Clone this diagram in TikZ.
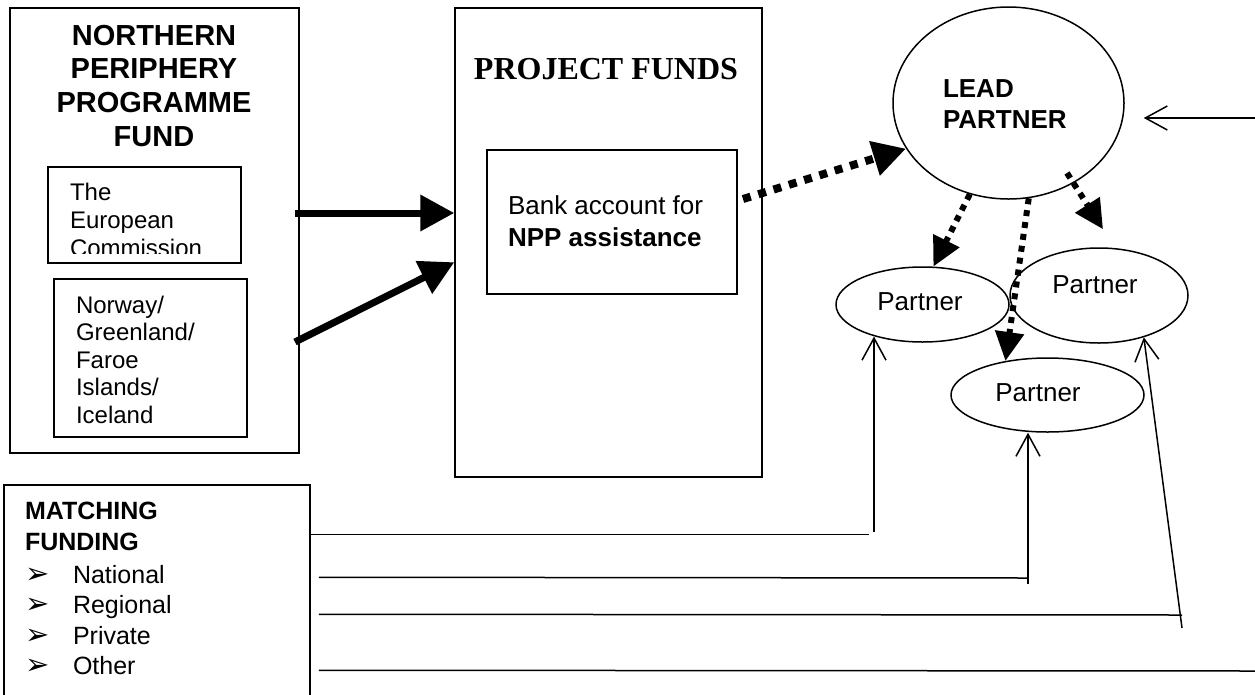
\documentclass[tikz,border=0pt]{standalone}
\usepackage{fontspec}
\setmainfont{Liberation Sans}
\newfontfamily\timesfont{Liberation Serif}
\newfontfamily\dejafont{DejaVu Sans}
\usetikzlibrary{arrows.meta,shapes.geometric,calc}
\newcommand\fsz[2]{\fontsize{#1}{#2}\selectfont}
\newcommand\blt{\makebox[48pt][l]{\dejafont\fontsize{29}{29}\selectfont ➢}}
\begin{document}
\begin{tikzpicture}[x=1pt,y=-1pt,
  box/.style={draw,line width=1.5pt,rectangle,inner sep=0pt},
  oval/.style={draw,line width=1.5pt,ellipse,inner sep=0pt},
  txt/.style={inner sep=0pt,outer sep=0pt},
  thickarr/.style={line width=7pt,-{Triangle[length=34pt,width=35pt]}},
  dotarr/.style={line width=8pt,dash pattern=on 8pt off 8pt,-{Triangle[length=33pt,width=34pt]}},
  dotarrs/.style={line width=6pt,dash pattern=on 6pt off 6pt,-{Triangle[length=29pt,width=28pt]}},
  thinline/.style={line width=1.5pt},
  thinarr/.style={line width=1.5pt,-{Straight Barb[length=22pt,width=24pt]}},
]
\useasboundingbox (0,0) rectangle (1255,694);
\clip (0,0) rectangle (1255,694);

% Northern Periphery Programme Fund
\node[box,minimum width=289pt,minimum height=445pt] (npp) at (154.5,230.5) {};
\node[txt,anchor=north,align=center,font=\bfseries\fsz{29}{33.7}] (npptitle) at (154,25) {NORTHERN\\PERIPHERY\\PROGRAMME\\FUND};
\node[box,minimum width=193pt,minimum height=96pt] (ec) at (144.5,215) {};
\begin{scope}
\clip (48,167) rectangle (241,253);
\node[txt,anchor=north west,align=left,font=\fsz{24}{28}] (ectext) at (70,183) {The\\European\\Commission};
\end{scope}
\node[box,minimum width=193pt,minimum height=158pt] (ngfi) at (150.5,358) {};
\node[txt,anchor=north west,align=left,font=\fsz{24}{27.5}] (ngfitext) at (76,296) {Norway/\\Greenland/\\Faroe\\Islands/\\Iceland};

% Project funds
\node[box,minimum width=307pt,minimum height=469pt] (pf) at (608.5,242.5) {};
\node[txt,anchor=base,font=\timesfont\bfseries\fsz{32}{36}] (pftitle) at (606,79) {PROJECT FUNDS};
\node[box,minimum width=250pt,minimum height=144pt] (bank) at (612,222) {};
\node[txt,anchor=north west,align=left,font=\fsz{26}{32}] (banktext) at (508,196) {Bank account for\\\textbf{NPP assistance}};

% Partners
\node[oval,minimum width=231pt,minimum height=192pt] (lead) at (1008.5,103) {};
\node[txt,anchor=north west,align=left,font=\bfseries\fsz{26}{31}] (leadtext) at (943,80) {LEAD\\PARTNER};
\node[oval,minimum width=173pt,minimum height=75pt] (p1) at (922.5,304.5) {};
\node[txt,anchor=base,font=\fsz{26}{30}] (p1text) at (920,310) {Partner};
\node[oval,minimum width=178pt,minimum height=95pt] (p2) at (1099,295.5) {};
\node[txt,anchor=base,font=\fsz{26}{30}] (p2text) at (1095,293) {Partner};
\node[oval,minimum width=193pt,minimum height=74pt] (p3) at (1047.5,395) {};
\node[txt,anchor=base,font=\fsz{26}{30}] (p3text) at (1038,401) {Partner};

% Matching funding
\node[box,minimum width=306pt,minimum height=235pt] (mb) at (157,602.5) {};
\node[txt,anchor=north west,align=left,font=\bfseries\fsz{25}{31}] (mbtitle) at (25,502) {MATCHING\\FUNDING};
\node[txt,anchor=north west,align=left,font=\fsz{25}{30.5}] (mblist) at (25,565) {\blt National\\\blt Regional\\\blt Private\\\blt Other};

% thick arrows
\coordinate (aS) at (295,213);
\draw[thickarr] (aS) -- (aS -| pf.west);
\coordinate (bS) at (295,342);
\draw[thickarr] (bS) -- ($(pf.north west)+(0,255)$);

% dotted arrows
\coordinate (cS) at (743,199);
\draw[dotarr] (cS) -- (lead.204);
\draw[dotarrs] (lead.247) -- (p1.74);
\draw[dotarrs] (lead.282) -- (p3.141);
\draw[dotarrs] ($(lead.center)+(58.5,70)$) -- ($(p2.north)+(4,-18)$);

% arrow into lead partner
\coordinate (rS) at (1255,118);
\draw[thinarr] (rS) -- ($(lead.east)+(19,15)$);

% matching funding lines
\draw[thinline] ($(mb.north east)+(0,50)$) -- ++(558,0);
\coordinate (m1) at (874,532);
\draw[thinarr] (m1) -- (m1 |- p1.214);

\coordinate (k2) at (1028,578);
\draw[thinline] ($(mb.north east)+(8,93)$) -- (k2);
\coordinate (m2) at (1028,584);
\draw[thinarr] (m2) -- (m2 |- p3.south);

\coordinate (k3) at (1182,615);
\draw[thinline] ($(mb.north east)+(8,130)$) -- (k3);
\coordinate (m3) at (1182,628);
\draw[thinarr] (m3) -- (p2.317);

\coordinate (k4) at (1255,671);
\draw[thinline] ($(mb.north east)+(8,186)$) -- (k4);
\end{tikzpicture}
\end{document}
